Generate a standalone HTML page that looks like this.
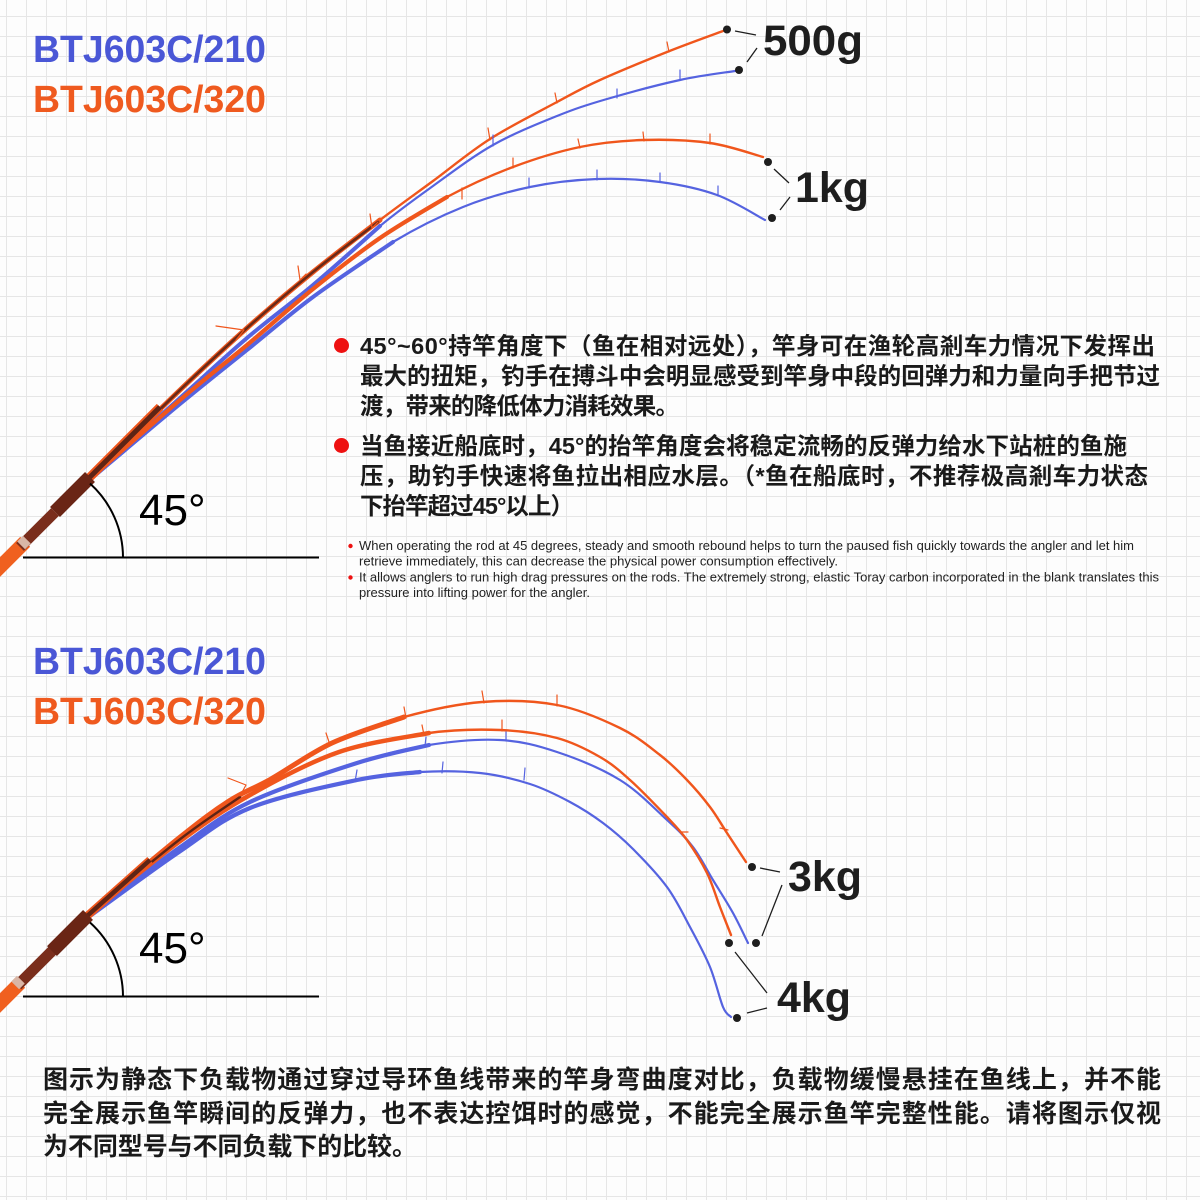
<!DOCTYPE html>
<html><head><meta charset="utf-8"><style>
html,body{margin:0;padding:0;background:#fff;}
svg{display:block;}
</style></head><body>
<svg id="svg" xmlns="http://www.w3.org/2000/svg" width="1200" height="1200" viewBox="0 0 1200 1200">
<defs>
<pattern id="g" width="20" height="20" patternUnits="userSpaceOnUse">
<rect width="20" height="20" fill="#fdfdfd"/>
<line x1="6.5" y1="0" x2="6.5" y2="20" stroke="#e6e6e6" stroke-width="1"/>
<line x1="0" y1="16.5" x2="20" y2="16.5" stroke="#e6e6e6" stroke-width="1"/>
</pattern>
</defs>
<rect width="1200" height="1200" fill="url(#g)"/>

<!-- Titles -->
<g font-family="Liberation Sans, Arial, sans-serif" font-weight="bold" font-size="38">
<text x="33" y="62" fill="#4a57d6" textLength="233" lengthAdjust="spacingAndGlyphs">BTJ603C/210</text>
<text x="33" y="112" fill="#ef5a1f" textLength="233" lengthAdjust="spacingAndGlyphs">BTJ603C/320</text>
<text x="33" y="674" fill="#4a57d6" textLength="233" lengthAdjust="spacingAndGlyphs">BTJ603C/210</text>
<text x="33" y="724" fill="#ef5a1f" textLength="233" lengthAdjust="spacingAndGlyphs">BTJ603C/320</text>
</g>

<!-- ===== TOP CHART RODS ===== -->
<g fill="none" stroke-linecap="round" stroke-linejoin="round">
<!-- blue 1kg -->
<polyline class="s" stroke="#5563e0" stroke-width="2.2" points="92,478 180,404 247,350 313,297 393,242 463,207 530,187 597,179 660,182 717,195 765,220"/>
<polyline class="s" stroke="#5563e0" stroke-width="4" points="92,478 180,404 247,350 313,297 393,242"/>
<!-- blue 500g -->
<polyline class="s" stroke="#5563e0" stroke-width="2.2" points="92,477 180,398 247,338 313,285 380,226 433,186 493,145 557,116 607,99 680,80 735,71"/>
<polyline class="s" stroke="#5563e0" stroke-width="4" points="92,477 180,398 247,338 313,285 380,226"/>
<!-- orange 1kg -->
<polyline class="s" stroke="#f0561c" stroke-width="2.4" points="92,477 180,400 247,345 313,289 380,238 447,197 513,167 580,147 643,140 710,143 763,157"/>
<polyline class="s" stroke="#f0561c" stroke-width="4.2" points="92,477 180,400 247,345 313,289 380,238 447,197"/>
<!-- orange 500g -->
<polyline class="s" stroke="#f0561c" stroke-width="2.4" points="92,476 180,390 247,328 313,272 380,220 433,181 490,139 557,102 600,80 667,52 723,31"/>
<polyline class="s" stroke="#f0561c" stroke-width="5" points="92,476 180,390 247,328 313,272 380,220"/>
<polyline class="s" stroke="#6a2a18" stroke-width="2.6" points="92,476 180,390 247,328 313,272 378,222"/>
<!-- guides -->
<g stroke="#f0561c" stroke-width="1.2">
<path d="M216,326 L244,330 L236,340"/>
<path d="M298,266 L300,280 L306,274"/>
<path d="M370,214 L372,228 L378,222"/>
<path d="M488,128 L490,140"/>
<path d="M555,93 L557,103"/>
<path d="M667,42 L669,52"/>
<path d="M462,188 L462,199"/>
<path d="M513,158 L513,168"/>
<path d="M578,139 L580,148"/>
<path d="M643,132 L644,141"/>
<path d="M710,134 L710,144"/>
</g>
<g stroke="#5563e0" stroke-width="1.2">
<path d="M493,135 L493,146"/>
<path d="M617,89 L617,98"/>
<path d="M680,70 L680,80"/>
<path d="M529,178 L529,188"/>
<path d="M597,170 L597,180"/>
<path d="M660,173 L660,182"/>
<path d="M718,186 L718,196"/>
</g>
</g>
<!-- top handle -->
<g>
<rect x="-17.5" y="552.5" width="50" height="14" fill="#f0601f" transform="rotate(-45 7.5 559.5)"/>
<rect x="12.75" y="524" width="49.5" height="11" fill="#7a2e1c" transform="rotate(-45 37.5 529.5)"/>
<rect x="20" y="537" width="8" height="11" fill="#d9b6a6" transform="rotate(-45 24 542.5)"/>
<line x1="88" y1="479" x2="160" y2="407" stroke="#f0561c" stroke-width="9"/>
<line x1="88" y1="479" x2="160" y2="407" stroke="#5e2415" stroke-width="5"/>
<rect x="47.75" y="487.5" width="49.5" height="14" fill="#6a2515" transform="rotate(-45 72.5 494.5)"/>
</g>

<!-- angle marker top -->
<g fill="none" stroke="#000" stroke-width="2">
<line x1="23" y1="557.5" x2="319" y2="557.5"/>
<path d="M90,483.5 A100 100 0 0 1 123,557.5"/>
</g>
<text x="139" y="525" font-family="Liberation Sans, Arial, sans-serif" font-size="44" fill="#000">45°</text>

<!-- top labels -->
<g fill="#1e1e1e">
<circle cx="727" cy="29.5" r="4"/>
<circle cx="739" cy="70" r="4"/>
<circle cx="768" cy="162" r="4"/>
<circle cx="772" cy="218" r="4"/>
</g>
<g stroke="#1e1e1e" stroke-width="1.3">
<line x1="735" y1="31" x2="756" y2="35"/>
<line x1="747" y1="62" x2="757" y2="48"/>
<line x1="774" y1="169" x2="789" y2="183"/>
<line x1="780" y1="210" x2="790" y2="197"/>
</g>
<g font-family="Liberation Sans, Arial, sans-serif" font-weight="bold" font-size="43" fill="#1e1e1e">
<text x="763" y="55" textLength="100" lengthAdjust="spacingAndGlyphs">500g</text>
<text x="795" y="202" textLength="74" lengthAdjust="spacingAndGlyphs">1kg</text>
<text x="788" y="891" textLength="74" lengthAdjust="spacingAndGlyphs">3kg</text>
<text x="777" y="1012" textLength="74" lengthAdjust="spacingAndGlyphs">4kg</text>
</g>

<!-- Chinese paragraphs -->
<g fill="#ee1111">
<circle cx="341.5" cy="345.5" r="7.5"/>
<circle cx="341.5" cy="445.5" r="7.5"/>
</g>
<g font-family="Liberation Sans, Noto Sans CJK SC, sans-serif" font-size="23.5" font-weight="bold" fill="#1a1a1a">
<text x="360" y="354" textLength="795">45°~60°持竿角度下（鱼在相对远处），竿身可在渔轮高剎车力情况下发挥出</text>
<text x="360" y="384" textLength="800">最大的扭矩，钓手在搏斗中会明显感受到竿身中段的回弹力和力量向手把节过</text>
<text x="360" y="414" textLength="319">渡，带来的降低体力消耗效果。</text>
<text x="360" y="454" textLength="767">当鱼接近船底时，45°的抬竿角度会将稳定流畅的反弹力给水下站桩的鱼施</text>
<text x="360" y="484" textLength="788">压，助钓手快速将鱼拉出相应水层。（*鱼在船底时，不推荐极高剎车力状态</text>
<text x="360" y="514" textLength="214">下抬竿超过45°以上）</text>
</g>

<!-- English -->
<g fill="#e11">
<circle cx="350.5" cy="546" r="2.2"/>
<circle cx="350.5" cy="577.5" r="2.2"/>
</g>
<g font-family="Liberation Sans, Arial, sans-serif" font-size="12.5" fill="#222">
<text x="359" y="550" textLength="775" lengthAdjust="spacingAndGlyphs">When operating the rod at 45 degrees, steady and smooth rebound helps to turn the paused fish quickly towards the angler and let him</text>
<text x="359" y="565.5" textLength="479" lengthAdjust="spacingAndGlyphs">retrieve immediately, this can decrease the physical power consumption effectively.</text>
<text x="359" y="581.5" textLength="800" lengthAdjust="spacingAndGlyphs">It allows anglers to run high drag pressures on the rods. The extremely strong, elastic Toray carbon incorporated in the blank translates this</text>
<text x="359" y="597" textLength="231" lengthAdjust="spacingAndGlyphs">pressure into lifting power for the angler.</text>
</g>

<!-- ===== BOTTOM CHART RODS ===== -->
<g fill="none" stroke-linecap="round" stroke-linejoin="round">
<!-- blue 4kg -->
<polyline class="s" stroke="#5563e0" stroke-width="2.2" points="90,916 179,852 250,808 357,780 420,772 480,773 530,784 570,802 603,823 633,849 667,887 690,927 710,967 723,1007 731,1017"/>
<polyline class="s" stroke="#5563e0" stroke-width="4.2" points="90,916 179,852 250,808 357,780 420,772"/>
<!-- blue 3kg -->
<polyline class="s" stroke="#5563e0" stroke-width="2.2" points="90,915 179,848 250,802 357,763 429,745 500,740 557,752 620,780 667,820 693,847 713,880 733,913 748,943"/>
<polyline class="s" stroke="#5563e0" stroke-width="4.2" points="90,915 179,848 250,802 357,763 429,745"/>
<!-- orange 4kg -->
<polyline class="s" stroke="#f0561c" stroke-width="2.4" points="90,913 179,842 250,795 339,752 429,733 500,730 557,738 600,757 630,780 667,817 687,840 707,873 720,907 731,935"/>
<polyline class="s" stroke="#f0561c" stroke-width="4.5" points="90,913 179,842 250,795 339,752 429,733"/>
<!-- orange 3kg -->
<polyline class="s" stroke="#f0561c" stroke-width="2.4" points="90,912 179,838 229,801 271,779 332,743 404,717 482,702 557,705 620,728 660,755 687,780 710,807 727,833 746,862"/>
<polyline class="s" stroke="#f0561c" stroke-width="5" points="90,912 179,838 229,801 271,779 332,743 404,717"/>
<polyline class="s" stroke="#5e2415" stroke-width="2.4" points="90,913 179,840 240,797"/>
<!-- guides -->
<g stroke="#f0561c" stroke-width="1.2">
<path d="M228,778 L246,785 L240,796"/>
<path d="M326,733 L330,745"/>
<path d="M404,707 L406,718"/>
<path d="M482,691 L484,703"/>
<path d="M557,695 L557,706"/>
<path d="M422,725 L424,735"/>
<path d="M502,720 L502,731"/>
<path d="M720,828 L728,830"/>
<path d="M680,832 L688,832"/>
</g>
<g stroke="#5563e0" stroke-width="1.2">
<path d="M357,770 L355,782"/>
<path d="M443,762 L442,773"/>
<path d="M525,768 L524,780"/>
<path d="M426,737 L425,746"/>
<path d="M506,732 L506,741"/>
</g>
</g>
<!-- bottom handle -->
<g>
<rect x="-22.5" y="993.5" width="50" height="14" fill="#f0601f" transform="rotate(-45 2.5 1000.5)"/>
<rect x="10.25" y="962.5" width="49.5" height="11" fill="#7a2e1c" transform="rotate(-45 35 968)"/>
<rect x="14" y="977" width="8" height="11" fill="#d9b6a6" transform="rotate(-45 18 982.5)"/>
<line x1="86" y1="917" x2="150" y2="860" stroke="#f0561c" stroke-width="8"/>
<line x1="86" y1="917" x2="150" y2="860" stroke="#5e2415" stroke-width="4.5"/>
<rect x="44.5" y="926" width="51" height="14" fill="#6a2515" transform="rotate(-45 70 933)"/>
</g>

<!-- angle marker bottom -->
<g fill="none" stroke="#000" stroke-width="2">
<line x1="23" y1="996.5" x2="319" y2="996.5"/>
<path d="M90,922.5 A100 100 0 0 1 123,996.5"/>
</g>
<text x="139" y="963" font-family="Liberation Sans, Arial, sans-serif" font-size="44" fill="#000">45°</text>

<!-- bottom labels dots -->
<g fill="#1e1e1e">
<circle cx="752" cy="867" r="4"/>
<circle cx="756" cy="943" r="4"/>
<circle cx="729" cy="943" r="4"/>
<circle cx="737" cy="1018" r="4"/>
</g>
<g stroke="#1e1e1e" stroke-width="1.3">
<line x1="760" y1="868" x2="780" y2="872"/>
<line x1="762" y1="936" x2="782" y2="885"/>
<line x1="735" y1="952" x2="767" y2="993"/>
<line x1="747" y1="1013" x2="767" y2="1008"/>
</g>

<!-- bottom paragraph -->
<g font-family="Liberation Sans, Noto Sans CJK SC, sans-serif" font-size="25" font-weight="bold" fill="#1a1a1a">
<text x="43" y="1088" textLength="1118">图示为静态下负载物通过穿过导环鱼线带来的竿身弯曲度对比，负载物缓慢悬挂在鱼线上，并不能</text>
<text x="43" y="1122" textLength="1118">完全展示鱼竿瞬间的反弹力，也不表达控饵时的感觉，不能完全展示鱼竿完整性能。请将图示仅视</text>
<text x="43" y="1155" textLength="374">为不同型号与不同负载下的比较。</text>
</g>
</svg>
<script>
(function(){
  var ns="http://www.w3.org/2000/svg";
  var pls=document.querySelectorAll("polyline.s");
  for(var k=0;k<pls.length;k++){
    var pl=pls[k];
    var raw=pl.getAttribute("points").trim().split(/\s+/);
    var p=raw.map(function(s){var a=s.split(",");return [parseFloat(a[0]),parseFloat(a[1])];});
    var d="M"+p[0][0]+","+p[0][1];
    for(var i=0;i<p.length-1;i++){
      var p0=p[i-1]||p[i],p1=p[i],p2=p[i+1],p3=p[i+2]||p2;
      var c1x=p1[0]+(p2[0]-p0[0])/6,c1y=p1[1]+(p2[1]-p0[1])/6;
      var c2x=p2[0]-(p3[0]-p1[0])/6,c2y=p2[1]-(p3[1]-p1[1])/6;
      d+=" C"+c1x.toFixed(2)+","+c1y.toFixed(2)+" "+c2x.toFixed(2)+","+c2y.toFixed(2)+" "+p2[0]+","+p2[1];
    }
    var path=document.createElementNS(ns,"path");
    path.setAttribute("d",d);
    path.setAttribute("stroke",pl.getAttribute("stroke"));
    path.setAttribute("stroke-width",pl.getAttribute("stroke-width"));
    path.setAttribute("fill","none");
    pl.parentNode.replaceChild(path,pl);
  }
})();
</script>
</body></html>
